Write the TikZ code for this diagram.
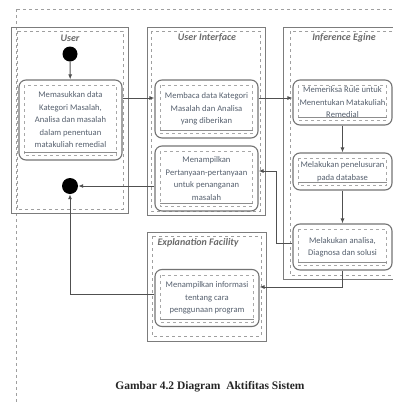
\documentclass[tikz,border=0pt]{standalone}
\usepackage{fontspec}
\setmainfont{Liberation Serif}
\newfontfamily\nodefont{Carlito}
\usetikzlibrary{arrows.meta,calc}
\definecolor{txt}{HTML}{56606E}
\definecolor{ln}{HTML}{505050}
\begin{document}
\begin{tikzpicture}[x=1pt,y=-1pt,
  act/.style={draw=ln!80, line width=1.1pt, rounded corners=7pt, align=center,
    font=\nodefont\fontsize{8.6}{12.5}\selectfont, text=txt, inner sep=0pt},
  lane/.style={draw=ln!75, line width=1pt},
  laneinner/.style={draw=ln!55, dashed, line width=0.5pt},
  arr/.style={draw=ln, line width=1pt, -{Latex[length=5pt,width=4pt]}},
  lanetitle/.style={font=\nodefont\bfseries\itshape\fontsize{10}{12}\selectfont, text=ln!85},
  dot/.style={circle, fill=black, inner sep=0pt},
]
\useasboundingbox (0,0) rectangle (393,402);
\clip (0,0) rectangle (393,402);

% page frame
\draw[dashed, ln!55, line width=0.5pt] (17,9) -- (393,9);
\draw[dashed, ln!55, line width=0.5pt] (16,9) -- (16,402);

% swimlanes
\draw[lane] (11,27) rectangle (128,213);
\draw[laneinner] (17,31) rectangle (123,209);
\draw[lane] (147,27) rectangle (265,215);
\draw[laneinner] (151,31) rectangle (260,211);
\draw[lane] (283,27) rectangle (400,279);
\draw[laneinner] (290,31) rectangle (400,275);
\draw[lane] (147,232) rectangle (266,341);
\draw[laneinner] (152,236) rectangle (261,336);

\node[lanetitle] (tuser) at (70,38) {User};
\node[lanetitle] (tui) at (207,38) {User Interface};
\node[lanetitle] (tie) at (344,38) {Inference Egine};
\node[lanetitle, anchor=west] (texp) at (154,243) {Explanation Facility};

% start / end
\node[dot, minimum size=15pt] (start) at (70,54) {};
\node[dot, minimum size=16pt] (end) at (70,186) {};

% actions
\node[act, minimum width=103pt, minimum height=80pt] (uact) at (70.5,120)
  {Memasukkan data\\Kategori Masalah,\\Analisa dan masalah\\dalam penentuan\\matakuliah remedial};
\node[act, minimum width=103pt, minimum height=58pt] (ui1) at (206.5,109)
  {Membaca data Kategori\\Masalah dan Analisa\\yang diberikan};
\node[act, minimum width=103pt, minimum height=65pt] (ui2) at (206.5,178.5)
  {Menampilkan\\Pertanyaan-pertanyaan\\untuk penanganan\\masalah};
\node[act, minimum width=99pt, minimum height=45pt] (ie1) at (342.5,102.5)
  {Memeriksa Rule untuk\\Menentukan Matakuliah\\Remedial};
\node[act, minimum width=99pt, minimum height=37pt] (ie2) at (342.5,171.5)
  {Melakukan penelusuran\\pada database};
\node[act, minimum width=99pt, minimum height=46pt] (ie3) at (342.5,247)
  {Melakukan analisa,\\Diagnosa dan solusi};
\node[act, minimum width=104pt, minimum height=57pt] (exp) at (207,298)
  {Menampilkan informasi\\tentang cara\\penggunaan program};

\foreach \n in {uact,ui1,ui2,ie1,ie2,ie3,exp}{
  \draw[dashed, ln!50, line width=0.4pt] ($(\n.north west)+(6,6)$) rectangle ($(\n.south east)+(-6,-5)$);
  \draw[ln!65, line width=0.6pt] ($(\n.south west)+(6,-8)$) -- ($(\n.south east)+(-6,-8)$);
}

% connectors
\draw[arr] (start) -- (uact);
\draw[arr] (uact.east |- 0,98) -- (ui1.west |- 0,98);
\draw[arr] (ui1.east |- 0,98) -- (ie1.west |- 0,98);
\draw[arr] (ie1) -- (ie2);
\draw[arr] (ie2) -- (ie3);
\draw[arr] (ie3.west |- 0,243) -- (276,243) -- (276,171) -- (ui2.east |- 0,171);
\draw[arr] (ie3.south) -- (342.5,287) -- (exp.east |- 0,287);
\draw[arr] (exp.west |- 0,294) -- (70,294) -- (end.south);
\draw[arr] (ui2.west |- end) -- (end.east);

% caption
\node[font=\bfseries\fontsize{11.5}{13}\selectfont, text=black!85] (cap) at (210,387)
  {Gambar 4.2 Diagram\ \ Aktifitas Sistem};
\end{tikzpicture}
\end{document}
